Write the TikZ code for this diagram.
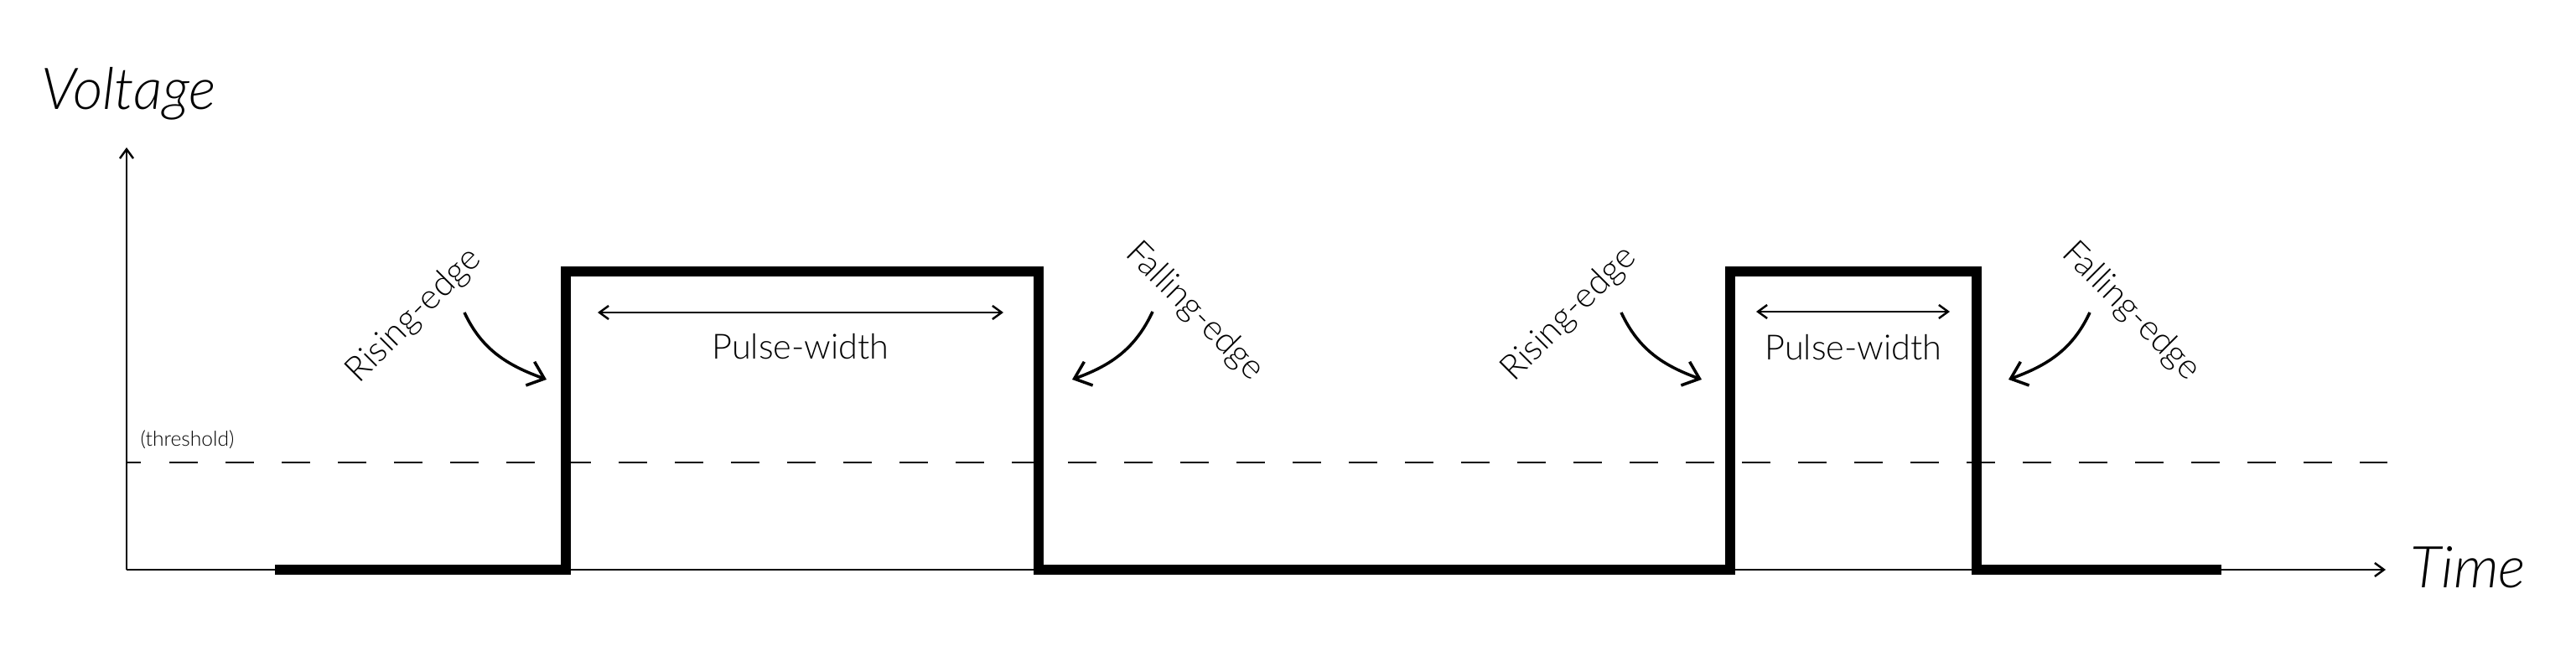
\documentclass[tikz,border=0pt]{standalone}
\usepackage{fontspec}
\setmainfont{Lato}[UprightFont={* Light}, ItalicFont={* Light Italic}]
\usetikzlibrary{arrows.meta}

\tikzset{
    thinline/.style={line width=0.7pt},
    signal/.style={line width=3.4pt, line join=miter},
    bendarrow/.style={line width=1pt, arrows={-Straight Barb[length=0.18cm,width=0.30cm]}},
    edgetext/.style={inner sep=0pt, font=\fontsize{11.8}{14}\selectfont},
    axistext/.style={inner sep=0pt, font=\fontsize{19.6}{23}\selectfont\itshape},
    threshtext/.style={inner sep=0pt, font=\fontsize{7}{8}\selectfont}
}

\begin{document}
\begin{tikzpicture}[>={Straight Barb[length=0.11cm,width=0.16cm]}]
    \useasboundingbox (-1.51,-1.03) rectangle (29.22,6.80);

    % 定义坐标轴的点
    \coordinate (O) at (0,0);
    \coordinate (Y) at (0,5.04);
    \coordinate (X) at (26.95,0);
    \coordinate (T0) at (0,1.28);
    \coordinate (T1) at (26.97,1.28);

    % 定义信号的点
    \coordinate (S0) at (1.77,0);
    \coordinate (R1) at (5.24,0);
    \coordinate (R1h) at (5.24,3.56);
    \coordinate (F1h) at (10.88,3.56);
    \coordinate (F1) at (10.88,0);
    \coordinate (R2) at (19.13,0);
    \coordinate (R2h) at (19.13,3.56);
    \coordinate (F2h) at (22.07,3.56);
    \coordinate (F2) at (22.07,0);
    \coordinate (S1) at (24.99,0);

    % 坐标轴和阈值线
    \draw[thinline, ->] (O) -- (Y);
    \draw[thinline, ->] (O) -- (X);
    \draw[thinline, dash pattern=on 0.335cm off 0.335cm, dash phase=0.16cm] (T0) -- (T1);

    % 信号
    \draw[signal] (S0) -- (R1) -- (R1h) -- (F1h) -- (F1) -- (R2) -- (R2h) -- (F2h) -- (F2) -- (S1);

    % 脉冲宽度
    \coordinate (P1a) at (5.62,3.07);
    \coordinate (P1b) at (10.46,3.07);
    \coordinate (P2a) at (19.44,3.08);
    \coordinate (P2b) at (21.75,3.08);
    \draw[thinline, <->] (P1a) -- (P1b);
    \draw[thinline, <->] (P2a) -- (P2b);
    \node[edgetext, anchor=base] (pw1) at (8.04,2.51) {Pulse-width};
    \node[edgetext, anchor=base] (pw2) at (20.60,2.50) {Pulse-width};

    % 上升沿和下降沿
    \coordinate (RA1) at (4.03,3.07);
    \coordinate (RB1) at (5.01,2.27);
    \coordinate (FA1) at (12.24,3.08);
    \coordinate (FB1) at (11.28,2.27);
    \coordinate (RA2) at (17.83,3.07);
    \coordinate (RB2) at (18.79,2.27);
    \coordinate (FA2) at (23.42,3.07);
    \coordinate (FB2) at (22.45,2.27);
    \draw[bendarrow] (RA1) to[out=-65, in=160] (RB1);
    \draw[bendarrow] (FA1) to[out=-115, in=20] (FB1);
    \draw[bendarrow] (RA2) to[out=-65, in=160] (RB2);
    \draw[bendarrow] (FA2) to[out=-115, in=20] (FB2);
    \node[edgetext, rotate=45] (re1) at (3.43,3.03) {Rising-edge};
    \node[edgetext, rotate=-45] (fe1) at (12.74,3.08) {Falling-edge};
    \node[edgetext, rotate=45] (re2) at (17.21,3.05) {Rising-edge};
    \node[edgetext, rotate=-45] (fe2) at (23.91,3.08) {Falling-edge};

    % 文字
    \node[axistext, anchor=base west] (volt) at (-1.02,5.49) {Voltage};
    \node[axistext, anchor=base west] (time) at (27.24,-0.22) {Time};
    \node[threshtext, anchor=base west] (thr) at (0.16,1.47) {(threshold)};

\end{tikzpicture}
\end{document}
